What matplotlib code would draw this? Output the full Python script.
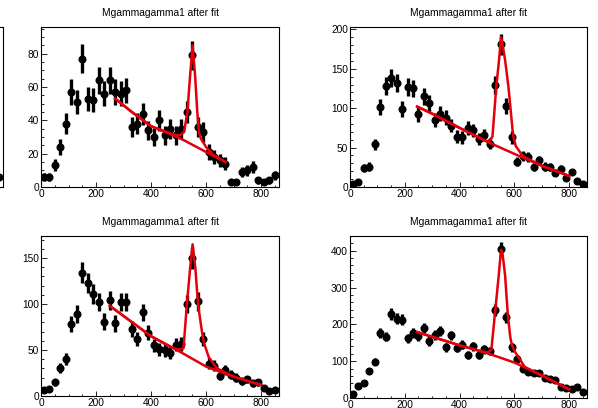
import matplotlib.pyplot as plt
import numpy as np
from matplotlib.ticker import MultipleLocator

plt.rcParams['font.family'] = ['Liberation Sans', 'DejaVu Sans']

# bin centres (bin width 20)
bins = [10, 30, 50, 70, 90, 110, 130, 150, 170, 190, 210, 230, 250, 270, 290,
        310, 330, 350, 370, 390, 410, 430, 450, 470, 490, 510, 530, 550, 570,
        590, 610, 630, 650, 670, 690, 710, 730, 750, 770, 790, 810, 830, 850]

# counts per panel
tl_counts = [6, 6, 13, 24, 38, 57, 51, 77, 53, 52, 64, 56, 64, 57, 56, 58, 36, 38,
             44, 34, 30, 40, 31, 35, 31, 35, 45, 79, 36, 33, 21, 18, 16, 14, 3, 3,
             9, 10, 12, 4, 3, 4, 7]
tr_counts = [4, 6, 24, 26, 54, 101, 128, 138, 132, 99, 127, 125, 92, 115, 106, 85,
             93, 88, 78, 64, 63, 75, 72, 61, 66, 55, 130, 181, 103, 63, 32, 39, 38,
             25, 34, 26, 25, 18, 23, 11, 19, 8, 4]
bl_counts = [7, 8, 15, 30, 40, 78, 89, 134, 123, 111, 102, 81, 104, 79, 102, 102,
             73, 62, 91, 69, 55, 51, 50, 47, 56, 57, 100, 150, 103, 62, 35, 33, 22,
             28, 23, 20, 16, 18, 14, 15, 9, 5, 7]
br_counts = [10, 32, 42, 73, 99, 176, 167, 228, 215, 213, 162, 177, 168, 191, 155,
             172, 181, 138, 170, 136, 145, 118, 140, 118, 132, 128, 239, 404, 219,
             138, 107, 79, 70, 68, 68, 55, 51, 48, 30, 28, 25, 30, 16]

# fit curves: total (signal + background) and background only
tl_fit_x = [270, 330, 400, 480, 505, 520, 532, 542, 551, 560, 568, 574, 581, 600, 625, 670]
tl_fit_y = [53, 45, 36.5, 31.5, 31, 33, 45, 67, 85, 67, 45, 33, 29, 24, 19.5, 15]
tl_bg_x = [270, 330, 400, 480, 520, 600, 670]
tl_bg_y = [53, 45, 36.5, 31, 28, 21, 15]

tr_fit_x = [245, 300, 400, 500, 512, 520, 534, 544, 551, 556, 566, 578, 586, 595, 605, 625, 640, 700, 800]
tr_fit_y = [102, 93, 75, 58, 60, 64, 128, 161, 190, 183, 161, 128, 99, 66, 52, 42, 37.5, 27, 14]
tr_bg_x = [245, 300, 400, 500, 600, 700, 800]
tr_bg_y = [102, 93, 75, 57.5, 42, 27, 14]

bl_fit_x = [250, 300, 400, 480, 505, 518, 530, 542, 551, 561, 571, 585, 592, 610, 640, 700, 800]
bl_fit_y = [98, 87, 65, 52, 50.5, 52, 99, 139, 165, 139, 99, 70, 58, 42, 30, 21, 12]
bl_bg_x = [250, 300, 400, 500, 600, 700, 800]
bl_bg_y = [98, 87, 65, 49, 32, 21, 12]

br_fit_x = [245, 400, 500, 516, 531, 543, 551, 557, 566, 576, 585, 591, 600, 613, 638, 701, 800]
br_fit_y = [179, 143, 123, 131, 244, 334, 402, 390, 334, 226, 165, 144, 128, 113, 84, 61, 23]
br_bg_x = [245, 400, 500, 601, 701, 800]
br_bg_y = [179, 143, 122, 96, 61, 23.5]

edge_x = [850]
edge_y = [6]

title = 'Mgammagamma1 after fit'
W, H = 598, 408

fig = plt.figure(figsize=(5.98, 4.08), dpi=100)


def frame(x0, x1, y0, y1):
    # pixel box -> figure fraction
    return [x0 / W, 1 - y1 / H, (x1 - x0) / W, (y1 - y0) / H]


def style(ax, ymax, ymaj, ymin):
    ax.set_xlim(0, 865)
    ax.set_ylim(0, ymax)
    ax.xaxis.set_major_locator(MultipleLocator(200))
    ax.xaxis.set_minor_locator(MultipleLocator(50))
    ax.yaxis.set_major_locator(MultipleLocator(ymaj))
    ax.yaxis.set_minor_locator(MultipleLocator(ymin))
    ax.tick_params(which='both', direction='in', labelsize=7.3, pad=1.5, width=0.6)
    ax.tick_params(axis='y', which='major', length=4.5)
    ax.tick_params(axis='y', which='minor', length=2.3)
    ax.tick_params(axis='x', which='major', length=3.5)
    ax.tick_params(axis='x', which='minor', length=1.8)
    for s in ax.spines.values():
        s.set_linewidth(0.8)


panels = [
    ((41, 279, 27, 187), tl_counts, tl_fit_x, tl_fit_y, tl_bg_x, tl_bg_y, 96, 20, 5),
    ((350, 587, 27, 187), tr_counts, tr_fit_x, tr_fit_y, tr_bg_x, tr_bg_y, 203, 50, 10),
    ((41, 279, 236, 396), bl_counts, bl_fit_x, bl_fit_y, bl_bg_x, bl_bg_y, 174, 50, 10),
    ((350, 587, 236, 398), br_counts, br_fit_x, br_fit_y, br_bg_x, br_bg_y, 440, 100, 20),
]

for box, counts, fx, fy, bx, by, ymax, ymaj, ymin in panels:
    ax = fig.add_axes(frame(*box))
    counts = np.array(counts, dtype=float)
    ax.errorbar(bins, counts, yerr=np.sqrt(counts), xerr=10, fmt='o', color='black',
                ms=4.8, elinewidth=2.4, capsize=0, zorder=2)
    ax.plot(bx, by, color='#e3000b', lw=1.8, zorder=3)
    ax.plot(fx, fy, color='#e3000b', lw=1.8, zorder=3)
    style(ax, ymax, ymaj, ymin)
    cx = (box[0] + box[1]) / 2 / W
    fig.text(cx, 1 - (box[2] - 14) / H, title, ha='center', va='center', fontsize=7.4)

# sliver of the neighbouring pad on the left edge
ax = fig.add_axes(frame(3 - 238, 3, 27, 187))
ax.errorbar(edge_x, edge_y, yerr=np.sqrt(edge_y), xerr=10, fmt='o', color='black',
            ms=4.8, elinewidth=2.4, capsize=0)
style(ax, 96, 20, 5)
ax.set_xticks([])
ax.set_yticks([])

fig.savefig('out.png', dpi=100)
